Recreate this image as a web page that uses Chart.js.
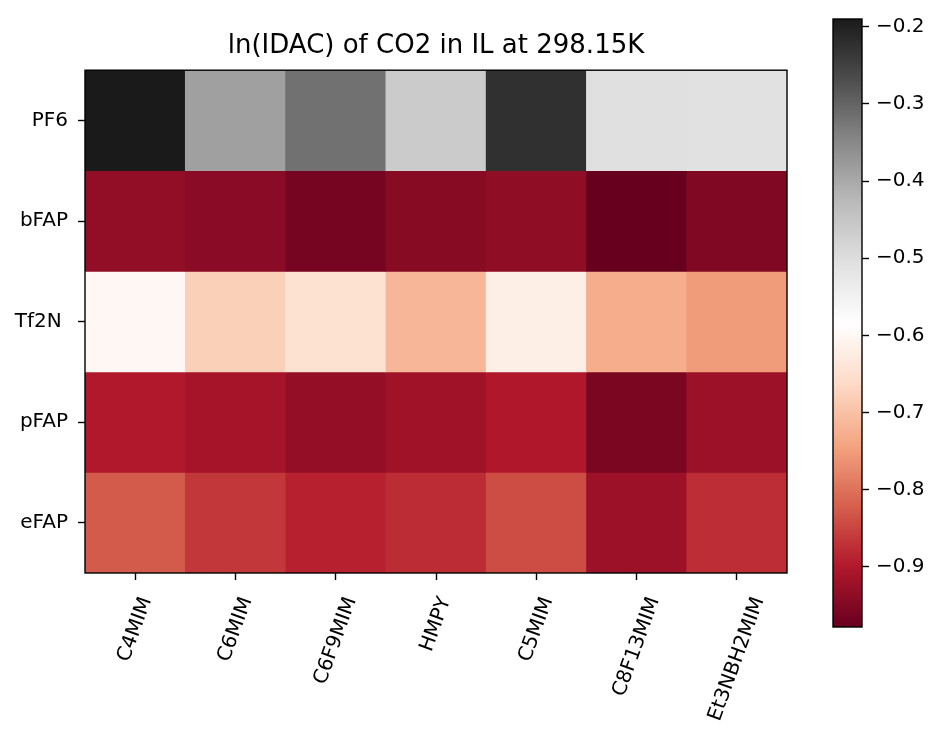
<!DOCTYPE html>
<html>
<head>
<meta charset="utf-8">
<title>ln(IDAC) of CO2 in IL at 298.15K</title>
<script src="https://cdn.jsdelivr.net/npm/chart.js@4.4.0/dist/chart.umd.min.js"></script>
<style>
  html, body { margin: 0; padding: 0; background: #fff; }
  #wrap { position: relative; width: 933px; height: 730px; }
  #heat { position: absolute; left: 0; top: 0; }
  #cbar { position: absolute; left: 800px; top: 0; }
</style>
</head>
<body>
<div id="wrap">
  <canvas id="heat" width="800" height="730"></canvas>
  <canvas id="cbar" width="133" height="730"></canvas>
</div>
<script>
// Cations (columns) and anions (rows)
const cations = ['C4MIM', 'C6MIM', 'C6F9MIM', 'HMPY', 'C5MIM', 'C8F13MIM', 'Et3NBH2MIM'];
const anions = ['PF6', 'bFAP', 'Tf2N ', 'pFAP', 'eFAP'];

// ln(IDAC) of CO2, one array per anion, ordered like `cations`
const lnPF6  = [-0.190, -0.386, -0.318, -0.462, -0.224, -0.505, -0.509];
const lnBFAP = [-0.933, -0.941, -0.962, -0.943, -0.935, -0.978, -0.952];
const lnTf2N = [-0.601, -0.679, -0.648, -0.717, -0.619, -0.730, -0.752];
const lnPFAP = [-0.899, -0.912, -0.931, -0.918, -0.901, -0.958, -0.922];
const lnEFAP = [-0.826, -0.865, -0.889, -0.877, -0.841, -0.922, -0.876];

// Colour bar tick values
const colorbarTicks = [-0.9, -0.8, -0.7, -0.6, -0.5, -0.4, -0.3, -0.2];

const rows = [lnPF6, lnBFAP, lnTf2N, lnPFAP, lnEFAP];

// RdGy diverging colour map (red -> white -> grey)
const rdgy = [
  [103, 0, 31], [178, 24, 43], [214, 96, 77], [244, 165, 130], [253, 219, 199],
  [255, 255, 255], [224, 224, 224], [186, 186, 186], [135, 135, 135], [77, 77, 77], [26, 26, 26]
];
function rdgyColor(t) {
  t = Math.min(1, Math.max(0, t));
  const p = t * 10;
  const i = Math.min(9, Math.floor(p));
  const f = p - i;
  const a = rdgy[i], b = rdgy[i + 1];
  const c = a.map((v, k) => Math.round(v + (b[k] - v) * f));
  return `rgb(${c[0]},${c[1]},${c[2]})`;
}

const allValues = rows.flat();
const vmin = Math.min(...allValues);
const vmax = Math.max(...allValues);
const norm = v => (v - vmin) / (vmax - vmin);

Chart.defaults.font.family = '"DejaVu Sans", sans-serif';
Chart.defaults.font.size = 20;
Chart.defaults.color = '#000';

const FONT_PX = 20;

// Black frame around the plotting area
const frame = {
  id: 'frame',
  afterDatasetsDraw(chart) {
    const { ctx, chartArea: a } = chart;
    ctx.save();
    ctx.strokeStyle = '#000';
    ctx.lineWidth = 1.4;
    ctx.strokeRect(a.left, a.top, a.right - a.left, a.bottom - a.top);
    ctx.restore();
  }
};

// Cation names rotated by 70 degrees, each centred under its tick
const rotatedLabels = {
  id: 'rotatedLabels',
  afterDraw(chart) {
    const { ctx, chartArea, scales: { x } } = chart;
    const th = 70 * Math.PI / 180;
    const H = FONT_PX * 1.17;
    ctx.save();
    ctx.font = FONT_PX + 'px "DejaVu Sans"';
    ctx.fillStyle = '#000';
    ctx.textAlign = 'center';
    ctx.textBaseline = 'middle';
    cations.forEach((lab, i) => {
      const w = ctx.measureText(lab).width;
      const bh = w * Math.sin(th) + H * Math.cos(th);
      const cx = x.getPixelForValue(i);
      const cy = chartArea.bottom + 21 + bh / 2;
      ctx.save();
      ctx.translate(cx, cy);
      ctx.rotate(-th);
      ctx.fillText(lab, 0, 0);
      ctx.restore();
    });
    ctx.restore();
  }
};

// Heat map: every cell is a floating bar spanning its row
new Chart(document.getElementById('heat'), {
  type: 'bar',
  data: {
    labels: cations,
    datasets: rows.map((vals, r) => ({
      label: anions[r],
      data: vals.map(() => [r - 0.5, r + 0.5]),
      backgroundColor: vals.map(v => rdgyColor(norm(v))),
      borderWidth: 0,
      grouped: false,
      barPercentage: 1,
      categoryPercentage: 1
    }))
  },
  options: {
    responsive: false,
    animation: false,
    layout: { padding: { left: 0, right: 13, top: 21, bottom: 0 } },
    plugins: {
      legend: { display: false },
      tooltip: { enabled: false },
      title: {
        display: true,
        text: 'ln(IDAC) of CO2 in IL at 298.15K',
        fullSize: false,
        color: '#000',
        font: { size: 26, weight: 'normal' },
        padding: { top: 10, bottom: 8 }
      }
    },
    scales: {
      x: {
        type: 'category',
        offset: true,
        grid: { display: true, drawOnChartArea: false, drawTicks: true, tickLength: 7,
                tickColor: '#000', tickWidth: 1.4, offset: false },
        border: { display: false },
        ticks: { display: false },
        afterFit(s) { s.height = 730 - 573; }
      },
      y: {
        type: 'linear',
        reverse: true,
        min: -0.5,
        max: 4.5,
        afterBuildTicks(s) { s.ticks = anions.map((_, i) => ({ value: i })); },
        ticks: {
          callback: v => anions[Math.round(v)],
          padding: 10,
          color: '#000',
          font: { size: FONT_PX }
        },
        grid: { drawOnChartArea: false, drawTicks: true, tickLength: 7, tickColor: '#000', tickWidth: 1.4 },
        border: { display: false },
        afterFit(s) { s.width = 85; }
      }
    }
  },
  plugins: [frame, rotatedLabels]
});

// Colour bar: a single floating bar from vmin to vmax filled with the colour map
new Chart(document.getElementById('cbar'), {
  type: 'bar',
  data: {
    labels: [''],
    datasets: [{
      data: [[vmin, vmax]],
      backgroundColor(c) {
        const ch = c.chart;
        const ys = ch.scales.y;
        if (!ch.chartArea || !ys) return '#888';
        const g = ch.ctx.createLinearGradient(0, ys.getPixelForValue(vmin), 0, ys.getPixelForValue(vmax));
        rdgy.forEach((col, i) => g.addColorStop(i / 10, `rgb(${col[0]},${col[1]},${col[2]})`));
        return g;
      },
      borderWidth: 0,
      barPercentage: 1,
      categoryPercentage: 1
    }]
  },
  options: {
    responsive: false,
    animation: false,
    layout: { padding: { left: 33, right: 0, top: 12, bottom: 103 } },
    plugins: { legend: { display: false }, tooltip: { enabled: false } },
    scales: {
      x: { display: false },
      y: {
        position: 'right',
        min: vmin,
        max: vmax,
        afterBuildTicks(s) { s.ticks = colorbarTicks.map(v => ({ value: v })); },
        ticks: {
          callback: v => '\u2212' + Math.abs(v).toFixed(1),
          padding: 7,
          color: '#000',
          font: { size: FONT_PX }
        },
        grid: { drawOnChartArea: false, drawTicks: true, tickLength: 7, tickColor: '#000', tickWidth: 1.4 },
        border: { display: false },
        afterFit(s) { s.width = 71; }
      }
    }
  },
  plugins: [frame]
});
</script>
</body>
</html>
